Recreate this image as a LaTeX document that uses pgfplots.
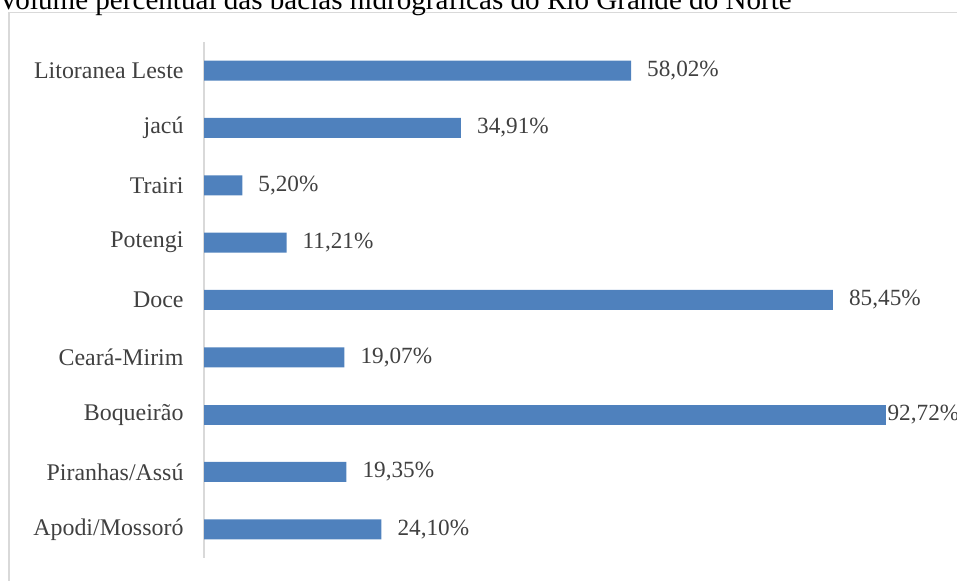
\documentclass[border=0pt]{standalone}
\usepackage{pgfplots}
\pgfplotsset{compat=1.18}
\usepackage{fontspec}
\setmainfont{Liberation Serif}
\definecolor{barblue}{HTML}{4F81BD}
\definecolor{axgray}{HTML}{D9D9D9}
\definecolor{txtgray}{HTML}{404040}
\begin{document}
\begin{tikzpicture}[x=1bp,y=1bp]
\draw[axgray, line width=1.2bp] (9,-10) rectangle (975,568.5);
\node[anchor=base west, inner sep=0pt, font=\fontsize{29.2}{33}\selectfont] at (-2,571) {Volume percentual das bacias hidrográficas do Rio Grande do Norte};
\begin{axis}[
  at={(204bp,23bp)}, anchor=south west,
  scale only axis, width=736bp, height=516bp,
  xmin=0, xmax=100, ymin=-0.5, ymax=8.5,
  xbar, bar width=20bp, bar shift=0pt,
  axis x line=none,
  axis y line*=left,
  y axis line style={axgray, line width=2bp},
  ytick={0,...,8},
  yticklabels={Apodi/Mossoró,Piranhas/Assú,Boqueirão,Ceará-Mirim,Doce,Potengi,Trairi,jacú,Litoranea Leste},
  major tick length=0pt,
  yticklabel style={font=\fontsize{24}{28}\selectfont, text=txtgray, xshift=-17bp},
  clip=false,
  point meta=explicit symbolic,
  nodes near coords,
  nodes near coords style={font=\fontsize{23.3}{27}\selectfont, text=txtgray, anchor=west, inner sep=0pt},
]
\addplot[fill=barblue, draw=none, nodes near coords style={xshift=16bp}] table[meta=lab] {
x y lab
24.10 0 24,10\%
19.35 1 19,35\%
19.07 3 19,07\%
85.45 4 85,45\%
11.21 5 11,21\%
5.20 6 5,20\%
34.91 7 34,91\%
58.02 8 58,02\%
};
\addplot[fill=barblue, draw=none, nodes near coords style={xshift=1bp}] table[meta=lab] {
x y lab
92.72 2 92,72\%
};
\end{axis}
\pgfresetboundingbox
\path[use as bounding box] (0,0) rectangle (957,581);
\end{tikzpicture}
\end{document}
